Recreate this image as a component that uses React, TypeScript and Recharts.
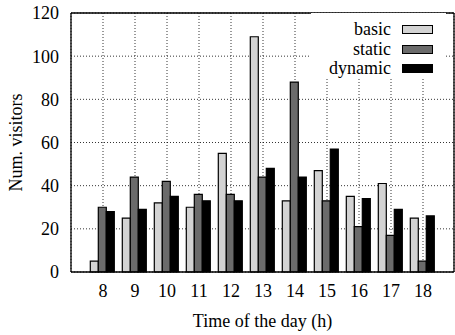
import React from 'react';
import {
  BarChart,
  Bar,
  XAxis,
  YAxis,
  CartesianGrid,
  Legend,
  Label
} from 'recharts';

const hours = ['8', '9', '10', '11', '12', '13', '14', '15', '16', '17', '18'];
const basic = [5, 25, 32, 30, 55, 109, 33, 47, 35, 41, 25];
const staticVisits = [30, 44, 42, 36, 36, 44, 88, 33, 21, 17, 5];
const dynamic = [28, 29, 35, 33, 33, 48, 44, 57, 34, 29, 26];
const yTicks = [0, 20, 40, 60, 80, 100, 120];

const series = [
  { key: 'basic', fill: '#d3d3d3' },
  { key: 'static', fill: '#6b6b6b' },
  { key: 'dynamic', fill: '#000000' }
];

const data = hours.map((hour, i) => ({
  hour,
  basic: basic[i],
  static: staticVisits[i],
  dynamic: dynamic[i]
}));

const FONT = '"Liberation Serif", "DejaVu Serif", "Times New Roman", serif';
const tickStyle = { fontSize: 18, fill: '#000', fontFamily: FONT };

function renderLegend(props: any) {
  // keep legend rows in series order (basic, static, dynamic)
  const payload = [...(props.payload || [])].sort(
    (a: any, b: any) =>
      series.findIndex(s => s.key === a.dataKey) - series.findIndex(s => s.key === b.dataKey)
  );
  return (
    <div style={{ paddingTop: 7, fontFamily: FONT, fontSize: 18, color: '#000' }}>
      {payload.map((entry: any) => {
        const s = series.find(x => x.key === entry.dataKey);
        return (
          <div
            key={entry.value}
            style={{ display: 'flex', alignItems: 'center', height: 19.5 }}
          >
            <span style={{ width: 80, textAlign: 'right', lineHeight: '19.5px' }}>{entry.value}</span>
            <span
              style={{
                marginLeft: 11,
                width: 29,
                height: 7,
                background: s ? s.fill : entry.color,
                border: '1.5px solid #000'
              }}
            />
          </div>
        );
      })}
    </div>
  );
}

export default function App() {
  return (
    <div style={{ position: 'absolute', left: 0, top: 0, background: '#fff', fontFamily: FONT }}>
      <BarChart
        width={455}
        height={335}
        data={data}
        margin={{ top: 13, right: 1, bottom: 0, left: 0 }}
        barCategoryGap={3.3}
        barGap={0}
      >
        <CartesianGrid stroke="#000" strokeDasharray="1 2" strokeWidth={0.8} />
        <XAxis
          dataKey="hour"
          height={63}
          padding={{ left: 16, right: 15 }}
          tickLine={false}
          tickSize={0}
          tickMargin={12}
          axisLine={{ stroke: '#000', strokeWidth: 1.3 }}
          tick={tickStyle}
          interval={0}
        >
          <Label
            value="Time of the day (h)"
            position="insideBottom"
            offset={8}
            style={{ fontSize: 18, fill: '#000', fontFamily: FONT }}
          />
        </XAxis>
        <XAxis
          xAxisId="top"
          dataKey="hour"
          orientation="top"
          mirror
          padding={{ left: 16, right: 15 }}
          tick={false}
          tickLine={{ stroke: '#000', strokeWidth: 1.2 }}
          tickSize={5}
          axisLine={{ stroke: '#000', strokeWidth: 1.3 }}
          interval={0}
        />
        <YAxis
          width={71}
          domain={[0, 120]}
          ticks={yTicks}
          tickLine={false}
          tickSize={0}
          tickMargin={12}
          axisLine={{ stroke: '#000', strokeWidth: 1.3 }}
          tick={tickStyle}
          interval={0}
        >
          <Label
            value="Num. visitors"
            angle={-90}
            position="insideLeft"
            offset={16}
            style={{ fontSize: 18, fill: '#000', fontFamily: FONT, textAnchor: 'middle' }}
          />
        </YAxis>
        <YAxis
          yAxisId="leftIn"
          orientation="left"
          mirror
          domain={[0, 120]}
          ticks={yTicks}
          tick={false}
          tickLine={{ stroke: '#000', strokeWidth: 1.2 }}
          tickSize={5}
          axisLine={false}
        />
        <YAxis
          yAxisId="right"
          orientation="right"
          mirror
          domain={[0, 120]}
          ticks={yTicks}
          tick={false}
          tickLine={{ stroke: '#000', strokeWidth: 1.2 }}
          tickSize={5}
          axisLine={{ stroke: '#000', strokeWidth: 1.3 }}
        />
        <Legend
          layout="vertical"
          align="center"
          verticalAlign="middle"
          content={renderLegend}
          wrapperStyle={{ top: 13, left: 311, width: 135, height: 66, background: '#fff' }}
        />
        {series.map(s => (
          <Bar
            key={s.key}
            dataKey={s.key}
            name={s.key}
            fill={s.fill}
            stroke="#000"
            strokeWidth={1.2}
            isAnimationActive={false}
          />
        ))}
      </BarChart>
    </div>
  );
}
